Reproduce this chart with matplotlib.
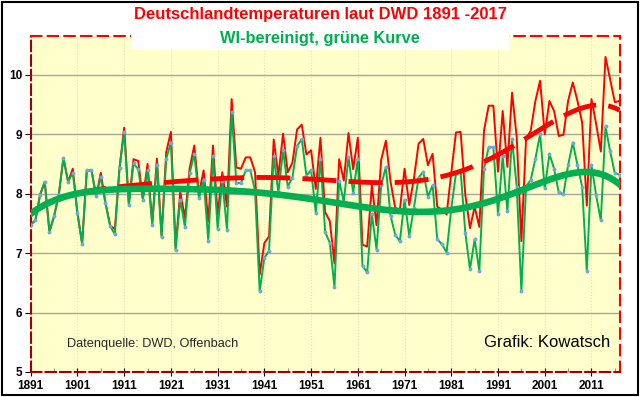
import matplotlib
matplotlib.use("Agg")
import matplotlib.pyplot as plt
import numpy as np
from matplotlib.patches import Rectangle

# Jahresmittel Deutschland (DWD)
years = np.arange(1891, 2018)
dwd = [7.48, 7.55, 7.98, 8.2, 7.36, 7.62, 7.98, 8.6, 8.2, 8.42,
       7.67, 7.16, 8.39, 8.39, 7.96, 8.35, 7.84, 7.47, 7.4, 8.43,
       9.11, 7.83, 8.58, 8.55, 7.92, 8.5, 7.5, 8.59, 7.3, 8.7,
       9.04, 7.1, 8.03, 7.59, 8.42, 8.81, 8.0, 8.39, 7.53, 8.81,
       7.65, 8.36, 7.78, 9.59, 8.44, 8.42, 8.61, 8.61, 8.36, 6.64,
       7.17, 7.28, 8.91, 8.3, 9.01, 8.36, 8.52, 9.08, 9.16, 8.66,
       8.73, 8.08, 8.94, 7.69, 7.54, 6.83, 8.58, 8.22, 9.02, 8.41,
       8.94, 7.14, 7.11, 8.14, 7.47, 8.57, 8.89, 8.2, 7.76, 7.73,
       8.42, 7.81, 8.25, 8.84, 8.92, 8.48, 8.67, 7.78, 7.73, 7.65,
       8.35, 9.03, 9.04, 7.98, 7.42, 7.78, 7.44, 9.06, 9.48, 9.48,
       8.37, 9.39, 8.45, 9.7, 8.95, 7.2, 8.92, 9.06, 9.56, 9.9,
       9.0, 9.56, 9.39, 8.97, 8.99, 9.56, 9.87, 9.56, 9.2, 7.8,
       9.59, 9.17, 8.71, 10.3, 9.92, 9.54, 9.56]
# WI-bereinigt
wi = [7.48, 7.55, 7.98, 8.2, 7.36, 7.62, 7.98, 8.6, 8.2, 8.35,
      7.67, 7.16, 8.39, 8.39, 7.96, 8.28, 7.84, 7.45, 7.32, 8.43,
      9.03, 7.81, 8.51, 8.41, 7.9, 8.39, 7.48, 8.49, 7.27, 8.59,
      8.86, 7.05, 7.9, 7.44, 8.34, 8.67, 7.92, 8.23, 7.21, 8.63,
      7.41, 8.22, 7.39, 9.38, 8.18, 8.18, 8.39, 8.39, 8.05, 6.36,
      6.92, 7.04, 8.63, 8.02, 8.73, 8.12, 8.27, 8.8, 8.92, 8.3,
      8.4, 7.68, 8.58, 7.36, 7.17, 6.43, 8.22, 7.86, 8.62, 8.01,
      8.59, 6.78, 6.68, 7.66, 7.06, 8.14, 8.45, 7.63, 7.31, 7.2,
      7.9, 7.29, 7.76, 8.27, 8.37, 7.95, 8.14, 7.23, 7.15, 7.01,
      7.75, 8.34, 8.38, 7.34, 6.73, 7.23, 6.7, 8.42, 8.78, 8.78,
      7.65, 8.64, 7.7, 8.92, 8.12, 6.36, 8.12, 8.23, 8.59, 9.0,
      8.09, 8.67, 8.42, 8.02, 7.99, 8.48, 8.86, 8.48, 8.12, 6.7,
      8.48, 7.97, 7.55, 9.13, 8.71, 8.34, 8.32]

xticks = np.arange(1891, 2018, 10)
yticks = [5, 6, 7, 8, 9, 10]

RED = "#FF0000"
GREEN = "#00B050"

# Polynom-Trendlinien (6. Ordnung) wie in Excel
t = (years - years.mean()) / 40.0
red_trend = np.polyval(np.polyfit(t, dwd, 6), t)
green_trend = np.polyval(np.polyfit(t, wi, 6), t)

fig = plt.figure(figsize=(6.4, 3.97), dpi=100)
ax = fig.add_axes([0.048, 0.063, 0.920, 0.846])
ax.set_facecolor("#FFFFCC")

ax.plot(years, dwd, color=RED, lw=1.4, zorder=3)
ax.plot(years, wi, color=GREEN, lw=1.4, marker="o", ms=1.8,
        mfc="#6FA8DC", mec="#6FA8DC", zorder=4)
ax.plot(years, red_trend, color=RED, lw=3.5, dashes=(7, 2.5), zorder=5)
ax.plot(years, green_trend, color=GREEN, lw=4.8, zorder=6)

ax.set_xlim(1891, 2017)
ax.set_ylim(5, 10.65)
ax.set_xticks(xticks)
ax.set_xticks(np.arange(1896, 2018, 10), minor=True)
ax.set_yticks(yticks)
ax.grid(axis="y", color="#A6A6A6", lw=1.0)
ax.grid(axis="x", color="#E3E3B5", lw=0.8, ls=":")
ax.tick_params(axis="x", which="major", direction="inout", length=6, color="black", pad=3)
ax.tick_params(axis="x", which="minor", direction="in", length=3, color="#808080")
ax.tick_params(axis="y", direction="out", length=4, color="black", pad=2)
for lab in ax.get_xticklabels() + ax.get_yticklabels():
    lab.set_fontfamily("Liberation Sans")
    lab.set_fontweight("bold")
    lab.set_fontsize(8.5)

for side in ["top", "right"]:
    ax.spines[side].set_color(RED)
    ax.spines[side].set_linestyle((0, (5, 3)))
    ax.spines[side].set_linewidth(1.5)
for side in ["left", "bottom"]:
    ax.spines[side].set_color("#A00000")
    ax.spines[side].set_linestyle((0, (5, 2)))
    ax.spines[side].set_linewidth(1.5)

ax.text(0.061, 0.075, "Datenquelle: DWD, Offenbach", transform=ax.transAxes,
        family="Liberation Sans", fontsize=9.2, color="#262626")
ax.text(0.985, 0.075, "Grafik: Kowatsch", transform=ax.transAxes, ha="right",
        family="Liberation Sans", fontsize=12, color="black")

# weisser Titelkasten ueber dem Diagramm
fig.patches.append(Rectangle((131 / 640, 1 - 50 / 397), (509 - 131) / 640, 50 / 397,
                             transform=fig.transFigure, facecolor="white",
                             edgecolor="none", zorder=10))
fig.text(0.5, 1 - 15 / 397, "Deutschlandtemperaturen laut DWD 1891 -2017", ha="center",
         va="center", color=RED, fontsize=12, fontweight="bold",
         family="Liberation Sans", zorder=11)
fig.text(0.5, 1 - 39 / 397, "WI-bereinigt, grüne Kurve", ha="center", va="center",
         color=GREEN, fontsize=11.8, fontweight="bold", family="Liberation Sans", zorder=11)

fig.patches.append(Rectangle((0.003, 0.004), 0.994, 0.992, transform=fig.transFigure,
                             facecolor="none", edgecolor="black", lw=1.5, zorder=12))

fig.savefig("out.png", dpi=100)
